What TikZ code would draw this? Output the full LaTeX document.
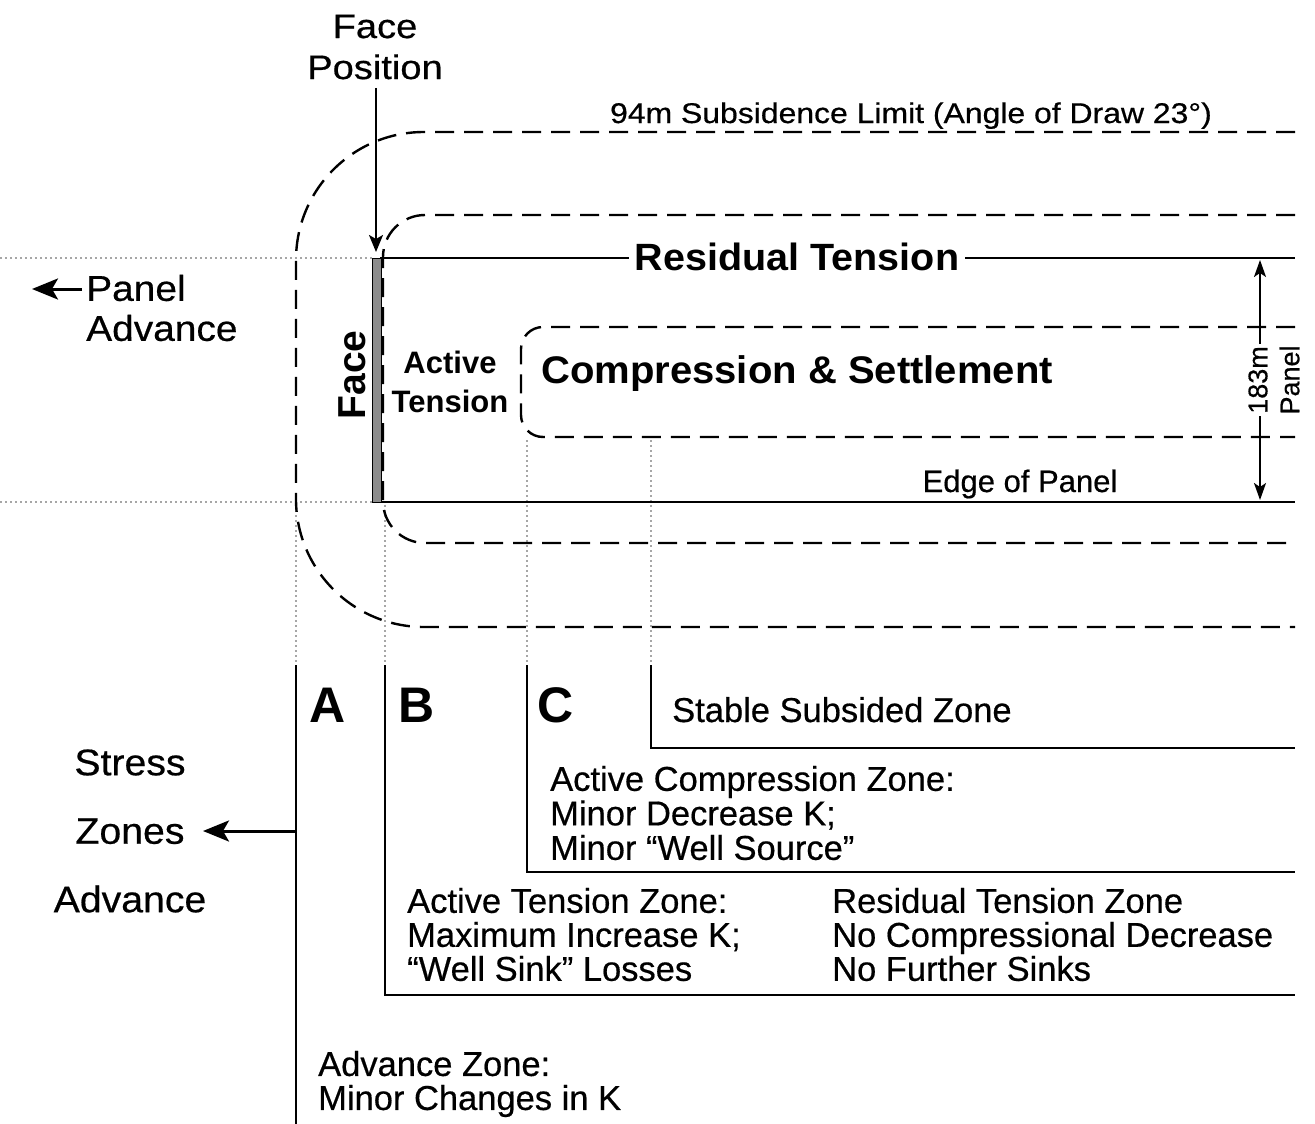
\documentclass[tikz,border=0pt]{standalone}
\usepackage{fontspec}
\setmainfont{Liberation Sans}[UprightFeatures={FakeBold=0.5}]
\usetikzlibrary{arrows.meta}
\newcommand{\myfs}[2]{\fontsize{#1}{#2}\selectfont}
\begin{document}
\begin{tikzpicture}[x=1pt,y=-1pt,
  txt/.style={inner sep=0pt},
  dashline/.style={line width=2.4pt, dash pattern=on 19pt off 10pt},
  dotline/.style={line width=1.5pt, black!35, dash pattern=on 1.5pt off 3.5pt},
  panelline/.style={line width=2.4pt},
  zoneline/.style={line width=2pt},
  arr/.style={line width=2pt, -{Stealth[length=17pt, width=14pt, inset=4pt]}},
  bigarr/.style={line width=3pt, -{Stealth[length=26pt, width=21pt, inset=6pt]}},
  dimarr/.style={line width=2pt, {Stealth[length=17pt, width=12pt, inset=4pt]}-{Stealth[length=17pt, width=12pt, inset=4pt]}},
]
\useasboundingbox (0,0) rectangle (1315,1124);

% dotted guide lines
\draw[dotline] (0,258) -- (372,258);
\draw[dotline] (0,502) -- (372,502);
\draw[dotline] (296,505) -- (296,665);
\draw[dotline] (385,505) -- (385,665);
\draw[dotline] (527,440) -- (527,665);
\draw[dotline] (651,440) -- (651,665);

% subsidence limits (dashed)
\draw[dashline, rounded corners=128pt] (1295,132) -- (296,132) -- (296,627) -- (1295,627);
\draw[dashline, rounded corners=42pt] (1295,215) -- (383,215) -- (383,543) -- (1295,543);
\draw[dashline, rounded corners=22pt] (1295,327) -- (521,327) -- (521,437) -- (1295,437);

% panel edges
\draw[panelline] (380,258) -- (1295,258);
\draw[panelline] (380,502) -- (1295,502);

% face bar
\node[draw, line width=1pt, fill=black!45, minimum width=9pt, minimum height=244pt, inner sep=0pt] (facebar) at (376.5,380) {};

% labels top
\node[txt, font=\myfs{34}{41}, align=center, xscale=1.12] (facepos) at (375,47) {Face\\Position};
\coordinate (fpstart) at (376,88);
\coordinate (fptip) at (376,252);
\draw[arr] (fpstart) -- (fptip);

\node[txt, font=\myfs{28.5}{30}, anchor=base, xscale=1.12] (limit) at (911,123) {94m Subsidence Limit (Angle of Draw 23°)};

\node[txt, font=\myfs{36}{40}, align=left, anchor=west, xscale=1.08] (paneladv) at (86,308) {Panel\\Advance};
\coordinate (pastart) at (82,289);
\coordinate (patip) at (32,289);
\draw[bigarr] (pastart) -- (patip);

\node[font=\bfseries\myfs{38}{40}, anchor=base, fill=white, inner xsep=6pt, inner ysep=2pt, xscale=1.04] (restens) at (797,270) {Residual Tension};
\node[txt, font=\bfseries\myfs{38.5}{40}, anchor=base, xscale=1.04] (comp) at (797,383) {Compression \& Settlement};
\node[txt, font=\bfseries\myfs{31}{39}, align=center] (acttens) at (450,382) {Active\\Tension};
\node[txt, font=\bfseries\myfs{39}{40}, rotate=90] (face) at (352,375) {Face};
\node[txt, font=\myfs{31}{33}, anchor=base] (edge) at (1020,492) {Edge of Panel};

% 183 m dimension
\coordinate (dtop) at (1260,260);
\coordinate (dbot) at (1260,500);
\draw[dimarr] (dtop) -- (dbot);
\node[font=\myfs{27}{32}, align=center, rotate=90, fill=white, inner sep=1.5pt] (dim) at (1274,380) {183m\\Panel};

% lower stress zones
\coordinate (la) at (296,665);
\coordinate (lb) at (385,665);
\coordinate (lc) at (527,665);
\coordinate (ld) at (651,665);
\draw[zoneline] (la) -- (296,1124);
\draw[zoneline] (lb) -- (385,995) -- (1295,995);
\draw[zoneline] (lc) -- (527,872) -- (1295,872);
\draw[zoneline] (ld) -- (651,748) -- (1295,748);

\node[txt, font=\bfseries\myfs{50}{50}, anchor=base] (zA) at (328,722) {A};
\node[txt, font=\bfseries\myfs{50}{50}, anchor=base] (zB) at (417,722) {B};
\node[txt, font=\bfseries\myfs{50}{50}, anchor=base] (zC) at (556,722) {C};

\node[txt, font=\myfs{34.5}{34}, anchor=base west] (stable) at (672,722) {Stable Subsided Zone};
\node[txt, font=\myfs{34.5}{34.5}, align=left, anchor=west] (actcomp) at (550,813) {Active Compression Zone:\\Minor Decrease K;\\Minor “Well Source”};
\node[txt, font=\myfs{34.5}{34}, align=left, anchor=west] (acttz) at (407,934.5) {Active Tension Zone:\\Maximum Increase K;\\“Well Sink” Losses};
\node[txt, font=\myfs{34.5}{34}, align=left, anchor=west] (restz) at (832,934.5) {Residual Tension Zone\\No Compressional Decrease\\No Further Sinks};
\node[txt, font=\myfs{34.5}{34}, align=left, anchor=west] (advz) at (318,1084) {Advance Zone:\\Minor Changes in K};

\node[txt, font=\myfs{37}{68.5}, align=center, xscale=1.06] (stress) at (130,831) {Stress\\Zones\\Advance};
\coordinate (zastart) at (296,831);
\coordinate (zatip) at (203,831);
\draw[bigarr] (zastart) -- (zatip);
\end{tikzpicture}
\end{document}
